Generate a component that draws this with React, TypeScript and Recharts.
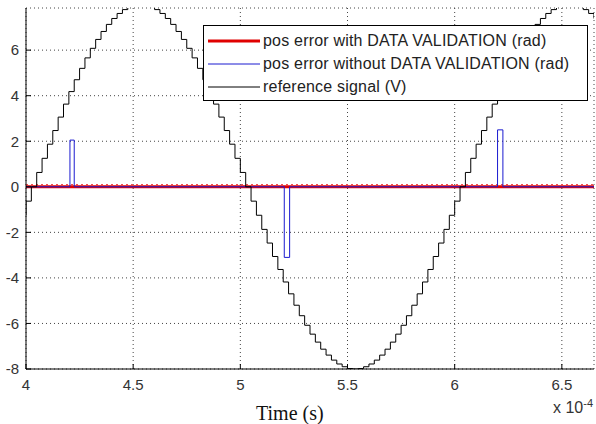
import React from "react";
import { LineChart, Line, XAxis, YAxis, CartesianGrid, Legend } from "recharts";

const X_TICKS = [4, 4.5, 5, 5.5, 6, 6.5];
const Y_TICKS = [-8, -6, -4, -2, 0, 2, 4, 6];
const X_DOMAIN = [4, 6.65];
const Y_DOMAIN = [-8, 7.85];

// time values are in units of 1e-4 s
const REF_T = [
  3.975, 4.0, 4.025, 4.05, 4.075, 4.1, 4.125, 4.15, 4.175, 4.2, 4.225, 4.25, 4.275, 4.3, 4.325, 4.35,
  4.375, 4.4, 4.425, 4.45, 4.475, 4.5, 4.525, 4.55, 4.575, 4.6, 4.625, 4.65, 4.675, 4.7, 4.725, 4.75,
  4.775, 4.8, 4.825, 4.85, 4.875, 4.9, 4.925, 4.95, 4.975, 5.0, 5.025, 5.05, 5.075, 5.1, 5.125, 5.15,
  5.175, 5.2, 5.225, 5.25, 5.275, 5.3, 5.325, 5.35, 5.375, 5.4, 5.425, 5.45, 5.475, 5.5, 5.525, 5.55,
  5.575, 5.6, 5.625, 5.65, 5.675, 5.7, 5.725, 5.75, 5.775, 5.8, 5.825, 5.85, 5.875, 5.9, 5.925, 5.95,
  5.975, 6.0, 6.025, 6.05, 6.075, 6.1, 6.125, 6.15, 6.175, 6.2, 6.225, 6.25, 6.275, 6.3, 6.325, 6.35,
  6.375, 6.4, 6.425, 6.45, 6.475, 6.5, 6.525, 6.55, 6.575, 6.6, 6.625, 6.65,
];
const REF_V = [
  -1.25, -0.63, 0, 0.63, 1.25, 1.87, 2.47, 3.06, 3.63, 4.18, 4.7, 5.2, 5.66, 6.08, 6.47, 6.82,
  7.13, 7.39, 7.61, 7.78, 7.9, 7.98, 8.0, 7.98, 7.9, 7.78, 7.61, 7.39, 7.13, 6.82, 6.47, 6.08,
  5.66, 5.2, 4.7, 4.18, 3.63, 3.06, 2.47, 1.87, 1.25, 0.63, 0, -0.63, -1.25, -1.87, -2.47, -3.06,
  -3.63, -4.18, -4.7, -5.2, -5.66, -6.08, -6.47, -6.82, -7.13, -7.39, -7.61, -7.78, -7.9, -7.98, -8.0, -7.98,
  -7.9, -7.78, -7.61, -7.39, -7.13, -6.82, -6.47, -6.08, -5.66, -5.2, -4.7, -4.18, -3.63, -3.06, -2.47, -1.87,
  -1.25, -0.63, 0, 0.63, 1.25, 1.87, 2.47, 3.06, 3.63, 4.18, 4.7, 5.2, 5.66, 6.08, 6.47, 6.82,
  7.13, 7.39, 7.61, 7.78, 7.9, 7.98, 8.0, 7.98, 7.9, 7.78, 7.61, 7.39,
];

const ERR_NO_DV_T = [4.0, 4.205, 4.225, 5.205, 5.23, 6.2, 6.225, 6.65];
const ERR_NO_DV_V = [0, 2.05, 0, -3.1, 0, 2.5, 0, 0];

const ERR_DV_T = [4.0, 6.65];
const ERR_DV_V = [0, 0];

const NOISE_T = [4.0, 6.65];
const NOISE_V = [0.1, 0.1];

const toRows = (t: number[], v: number[]) => t.map((x, i) => ({ t: x, v: v[i] }));

const SANS = "'Liberation Sans', Arial, sans-serif";
const SERIF = "'Liberation Serif', 'Times New Roman', serif";

function MatlabLegend({ payload }: any) {
  const items = (payload || []).filter((p: any) => p.type !== "none");
  return (
    <div
      style={{
        border: "1px solid #000",
        background: "#fff",
        width: 385,
        height: 76,
        boxSizing: "border-box",
        padding: "3px 0 0 4px",
        fontFamily: SANS,
        fontSize: 16,
        letterSpacing: 0.2,
        color: "#222",
      }}
    >
      {items.map((entry: any) => (
        <div key={entry.value} style={{ display: "flex", alignItems: "center", height: 23 }}>
          <svg width={52} height={6} style={{ marginRight: 3 }}>
            <line x1={0} x2={52} y1={3} y2={3} stroke={entry.color} strokeWidth={entry.payload?.strokeWidth ?? 1} />
          </svg>
          <span>{entry.value}</span>
        </div>
      ))}
    </div>
  );
}

export default function App() {
  return (
    <div style={{ position: "absolute", left: 0, top: 0, width: 596, height: 424, background: "#fff", overflow: "hidden" }}>
      <LineChart width={596} height={424} margin={{ top: 8, right: 2, bottom: 0, left: 0 }}>
        <CartesianGrid stroke="#444" strokeDasharray="1 3" />
        <XAxis
          dataKey="t"
          type="number"
          domain={X_DOMAIN}
          ticks={X_TICKS}
          allowDataOverflow
          interval={0}
          height={55}
          tickSize={-5}
          tickMargin={15}
          stroke="#000"
          tick={{ fill: "#333", fontSize: 15, fontFamily: SANS }}
        />
        <XAxis
          xAxisId="top"
          orientation="top"
          type="number"
          domain={X_DOMAIN}
          ticks={X_TICKS}
          allowDataOverflow
          height={0}
          tickSize={-5}
          tick={false}
          stroke="#000"
        />
        <YAxis
          type="number"
          domain={Y_DOMAIN}
          ticks={Y_TICKS}
          allowDataOverflow
          interval={0}
          width={26}
          tickSize={-5}
          tickMargin={12}
          stroke="#000"
          tick={{ fill: "#333", fontSize: 15, fontFamily: SANS }}
        />
        <YAxis
          yAxisId="right"
          orientation="right"
          type="number"
          domain={Y_DOMAIN}
          ticks={Y_TICKS}
          allowDataOverflow
          width={0}
          tickSize={-5}
          tick={false}
          stroke="#000"
        />
        <Legend
          layout="vertical"
          align="center"
          verticalAlign="middle"
          content={<MatlabLegend />}
          wrapperStyle={{ left: 203, top: 25, width: 385 }}
        />
        <Line
          data={toRows(NOISE_T, NOISE_V)}
          dataKey="v"
          type="linear"
          stroke="#f05050"
          strokeWidth={1}
          strokeDasharray="2 3"
          dot={false}
          legendType="none"
          isAnimationActive={false}
        />
        <Line
          data={toRows(ERR_DV_T, ERR_DV_V)}
          dataKey="v"
          name="pos error with DATA VALIDATION (rad)"
          type="linear"
          stroke="#e00000"
          strokeWidth={3}
          dot={false}
          isAnimationActive={false}
        />
        <Line
          data={toRows(ERR_NO_DV_T, ERR_NO_DV_V)}
          dataKey="v"
          name="pos error without DATA VALIDATION (rad)"
          type="stepAfter"
          stroke="#1a1ad0"
          strokeWidth={1}
          dot={false}
          isAnimationActive={false}
        />
        <Line
          data={toRows(REF_T, REF_V)}
          dataKey="v"
          name="reference signal (V)"
          type="stepAfter"
          stroke="#000"
          strokeWidth={1}
          dot={false}
          isAnimationActive={false}
        />
      </LineChart>
      <div
        style={{
          position: "absolute",
          left: 256,
          top: 403,
          fontFamily: SERIF,
          fontSize: 20,
          lineHeight: "20px",
          color: "#111",
          whiteSpace: "nowrap",
        }}
      >
        Time (s)
      </div>
      <div
        style={{
          position: "absolute",
          left: 553,
          top: 398,
          fontFamily: SANS,
          fontSize: 16,
          lineHeight: "18px",
          color: "#333",
          whiteSpace: "nowrap",
        }}
      >
        x 10<sup style={{ fontSize: 11, verticalAlign: 6, lineHeight: "11px" }}>-4</sup>
      </div>
    </div>
  );
}
